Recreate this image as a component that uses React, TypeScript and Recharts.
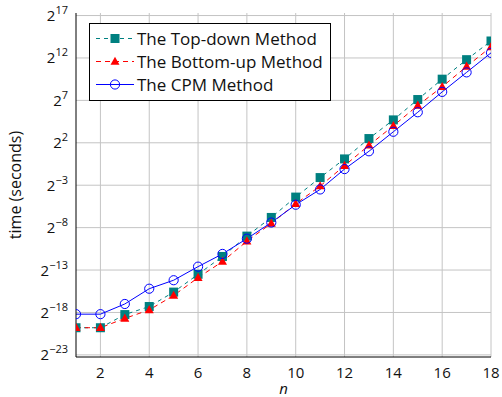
import { CartesianGrid, Legend, Line, LineChart, XAxis, YAxis } from 'recharts'

// log2 of the running time
const nValues = [1, 2, 3, 4, 5, 6, 7, 8, 9, 10, 11, 12, 13, 14, 15, 16, 17, 18]
const topDown = [-19.8, -19.8, -18.25, -17.3, -15.6, -13.5, -11.4, -9.0, -6.8, -4.4, -2.1, 0.1, 2.5, 4.7, 7.1, 9.5, 11.8, 14.0]
const bottomUp = [-19.8, -19.8, -18.7, -17.7, -16.0, -13.9, -12.0, -9.6, -7.5, -5.2, -3.1, -0.7, 1.7, 4.0, 6.4, 8.6, 11.0, 13.3]
const cpm = [-18.2, -18.2, -17.0, -15.2, -14.2, -12.6, -11.1, -9.3, -7.4, -5.3, -3.5, -1.1, 1.0, 3.3, 5.6, 8.0, 10.3, 12.6]

const xTicks = [2, 4, 6, 8, 10, 12, 14, 16, 18]
const yTicks = [-23, -18, -13, -8, -3, 2, 7, 12, 17]

const seriesNames = ['The Top-down Method', 'The Bottom-up Method', 'The CPM Method']

const TEAL = '#008080'
const RED = '#ff0000'
const BLUE = '#0000ff'
const FONT = '"Open Sans", "DejaVu Sans", sans-serif'

const data = nValues.map((n, i) => ({
  n,
  topDown: topDown[i],
  bottomUp: bottomUp[i],
  cpm: cpm[i],
}))

function Square({ cx, cy, s = 9 }: { cx: number; cy: number; s?: number }) {
  return <rect x={cx - s / 2} y={cy - s / 2} width={s} height={s} fill={TEAL} />
}

function Triangle({ cx, cy, s = 9 }: { cx: number; cy: number; s?: number }) {
  const h = s * 0.9
  return (
    <polygon
      points={`${cx},${cy - h * 0.6} ${cx - s / 2},${cy + h * 0.4} ${cx + s / 2},${cy + h * 0.4}`}
      fill={RED}
    />
  )
}

function Circle({ cx, cy }: { cx: number; cy: number }) {
  return <circle cx={cx} cy={cy} r={4.6} fill="none" stroke={BLUE} strokeWidth={1} />
}

function YTick({ x, y, payload }: any) {
  const v = payload.value as number
  const exp = v < 0 ? `\u2212${Math.abs(v)}` : `${v}`
  return (
    <text x={x} y={y + 5.5} textAnchor="end" fill="#111" fontFamily={FONT} fontSize={15}>
      <tspan>2</tspan>
      <tspan dy={-7} fontSize={11}>
        {exp}
      </tspan>
    </text>
  )
}

function XTick({ x, y, payload }: any) {
  return (
    <text x={x} y={y + 13} textAnchor="middle" fill="#111" fontFamily={FONT} fontSize={15}>
      {payload.value}
    </text>
  )
}

function LegendBox() {
  const rows = [
    { color: TEAL, dash: '4 4', marker: <Square cx={25} cy={11.5} s={9} /> },
    { color: RED, dash: '5 4', marker: <Triangle cx={25} cy={11.5} s={9} /> },
    { color: BLUE, dash: undefined, marker: <Circle cx={25} cy={11.5} /> },
  ]
  return (
    <div
      style={{
        border: '1px solid #000',
        background: '#fff',
        padding: '3px 0 4px',
        width: 242,
        fontFamily: FONT,
        fontSize: 17,
        color: '#111',
        boxSizing: 'border-box',
      }}
    >
      {rows.map((r, i) => (
        <div key={seriesNames[i]} style={{ display: 'flex', alignItems: 'center', height: 23 }}>
          <svg width={47} height={23} style={{ flex: 'none' }}>
            <line x1={6} x2={44} y1={11.5} y2={11.5} stroke={r.color} strokeWidth={1} strokeDasharray={r.dash} />
            {r.marker}
          </svg>
          <span style={{ whiteSpace: 'nowrap' }}>{seriesNames[i]}</span>
        </div>
      ))}
    </div>
  )
}

export default function App() {
  return (
    <div style={{ position: 'absolute', left: 0, top: 0, width: 502, height: 397, background: '#fff' }}>
      <LineChart width={502} height={397} data={data} margin={{ top: 13, right: 11, left: 0, bottom: 10 }}>
        <CartesianGrid stroke="#c4c4c4" strokeWidth={1} horizontalValues={yTicks} verticalValues={xTicks} />
        <XAxis
          dataKey="n"
          type="number"
          domain={[1, 18]}
          ticks={xTicks}
          allowDataOverflow
          height={30}
          stroke="#000"
          tickLine={false}
          tick={<XTick />}
          label={{ value: 'n', position: 'insideBottom', offset: -7, fontStyle: 'italic', fontSize: 15, fill: '#111', fontFamily: FONT }}
        />
        <XAxis xAxisId="top" orientation="top" dataKey="n" type="number" domain={[1, 18]} ticks={xTicks} height={0} stroke="#000" tick={false} tickLine={false} />
        <YAxis
          type="number"
          domain={[-23.25, 17.3]}
          ticks={yTicks}
          allowDataOverflow
          width={76}
          stroke="#000"
          tickLine={false}
          tickSize={8}
          tickMargin={0}
          tick={<YTick />}
          label={{ value: 'time (seconds)', angle: -90, position: 'insideLeft', offset: 15, fontSize: 16, fill: '#111', fontFamily: FONT, style: { textAnchor: 'middle' } }}
        />
        <YAxis yAxisId="right" orientation="right" type="number" domain={[-23.25, 17.3]} width={0} stroke="#000" tick={false} tickLine={false} />
        <Legend
          layout="horizontal"
          verticalAlign="middle"
          align="center"
          wrapperStyle={{ left: 89, top: 23, width: 242 }}
          content={<LegendBox />}
        />
        <Line
          dataKey="topDown"
          stroke={TEAL}
          strokeWidth={1}
          strokeDasharray="4 4"
          isAnimationActive={false}
          dot={(p: any) => <Square key={`td-${p.index}`} cx={p.cx} cy={p.cy} />}
        />
        <Line
          dataKey="bottomUp"
          stroke={RED}
          strokeWidth={1}
          strokeDasharray="5 4"
          isAnimationActive={false}
          dot={(p: any) => <Triangle key={`bu-${p.index}`} cx={p.cx} cy={p.cy} />}
        />
        <Line
          dataKey="cpm"
          stroke={BLUE}
          strokeWidth={1}
          isAnimationActive={false}
          dot={(p: any) => <Circle key={`cpm-${p.index}`} cx={p.cx} cy={p.cy} />}
        />
      </LineChart>
    </div>
  )
}
